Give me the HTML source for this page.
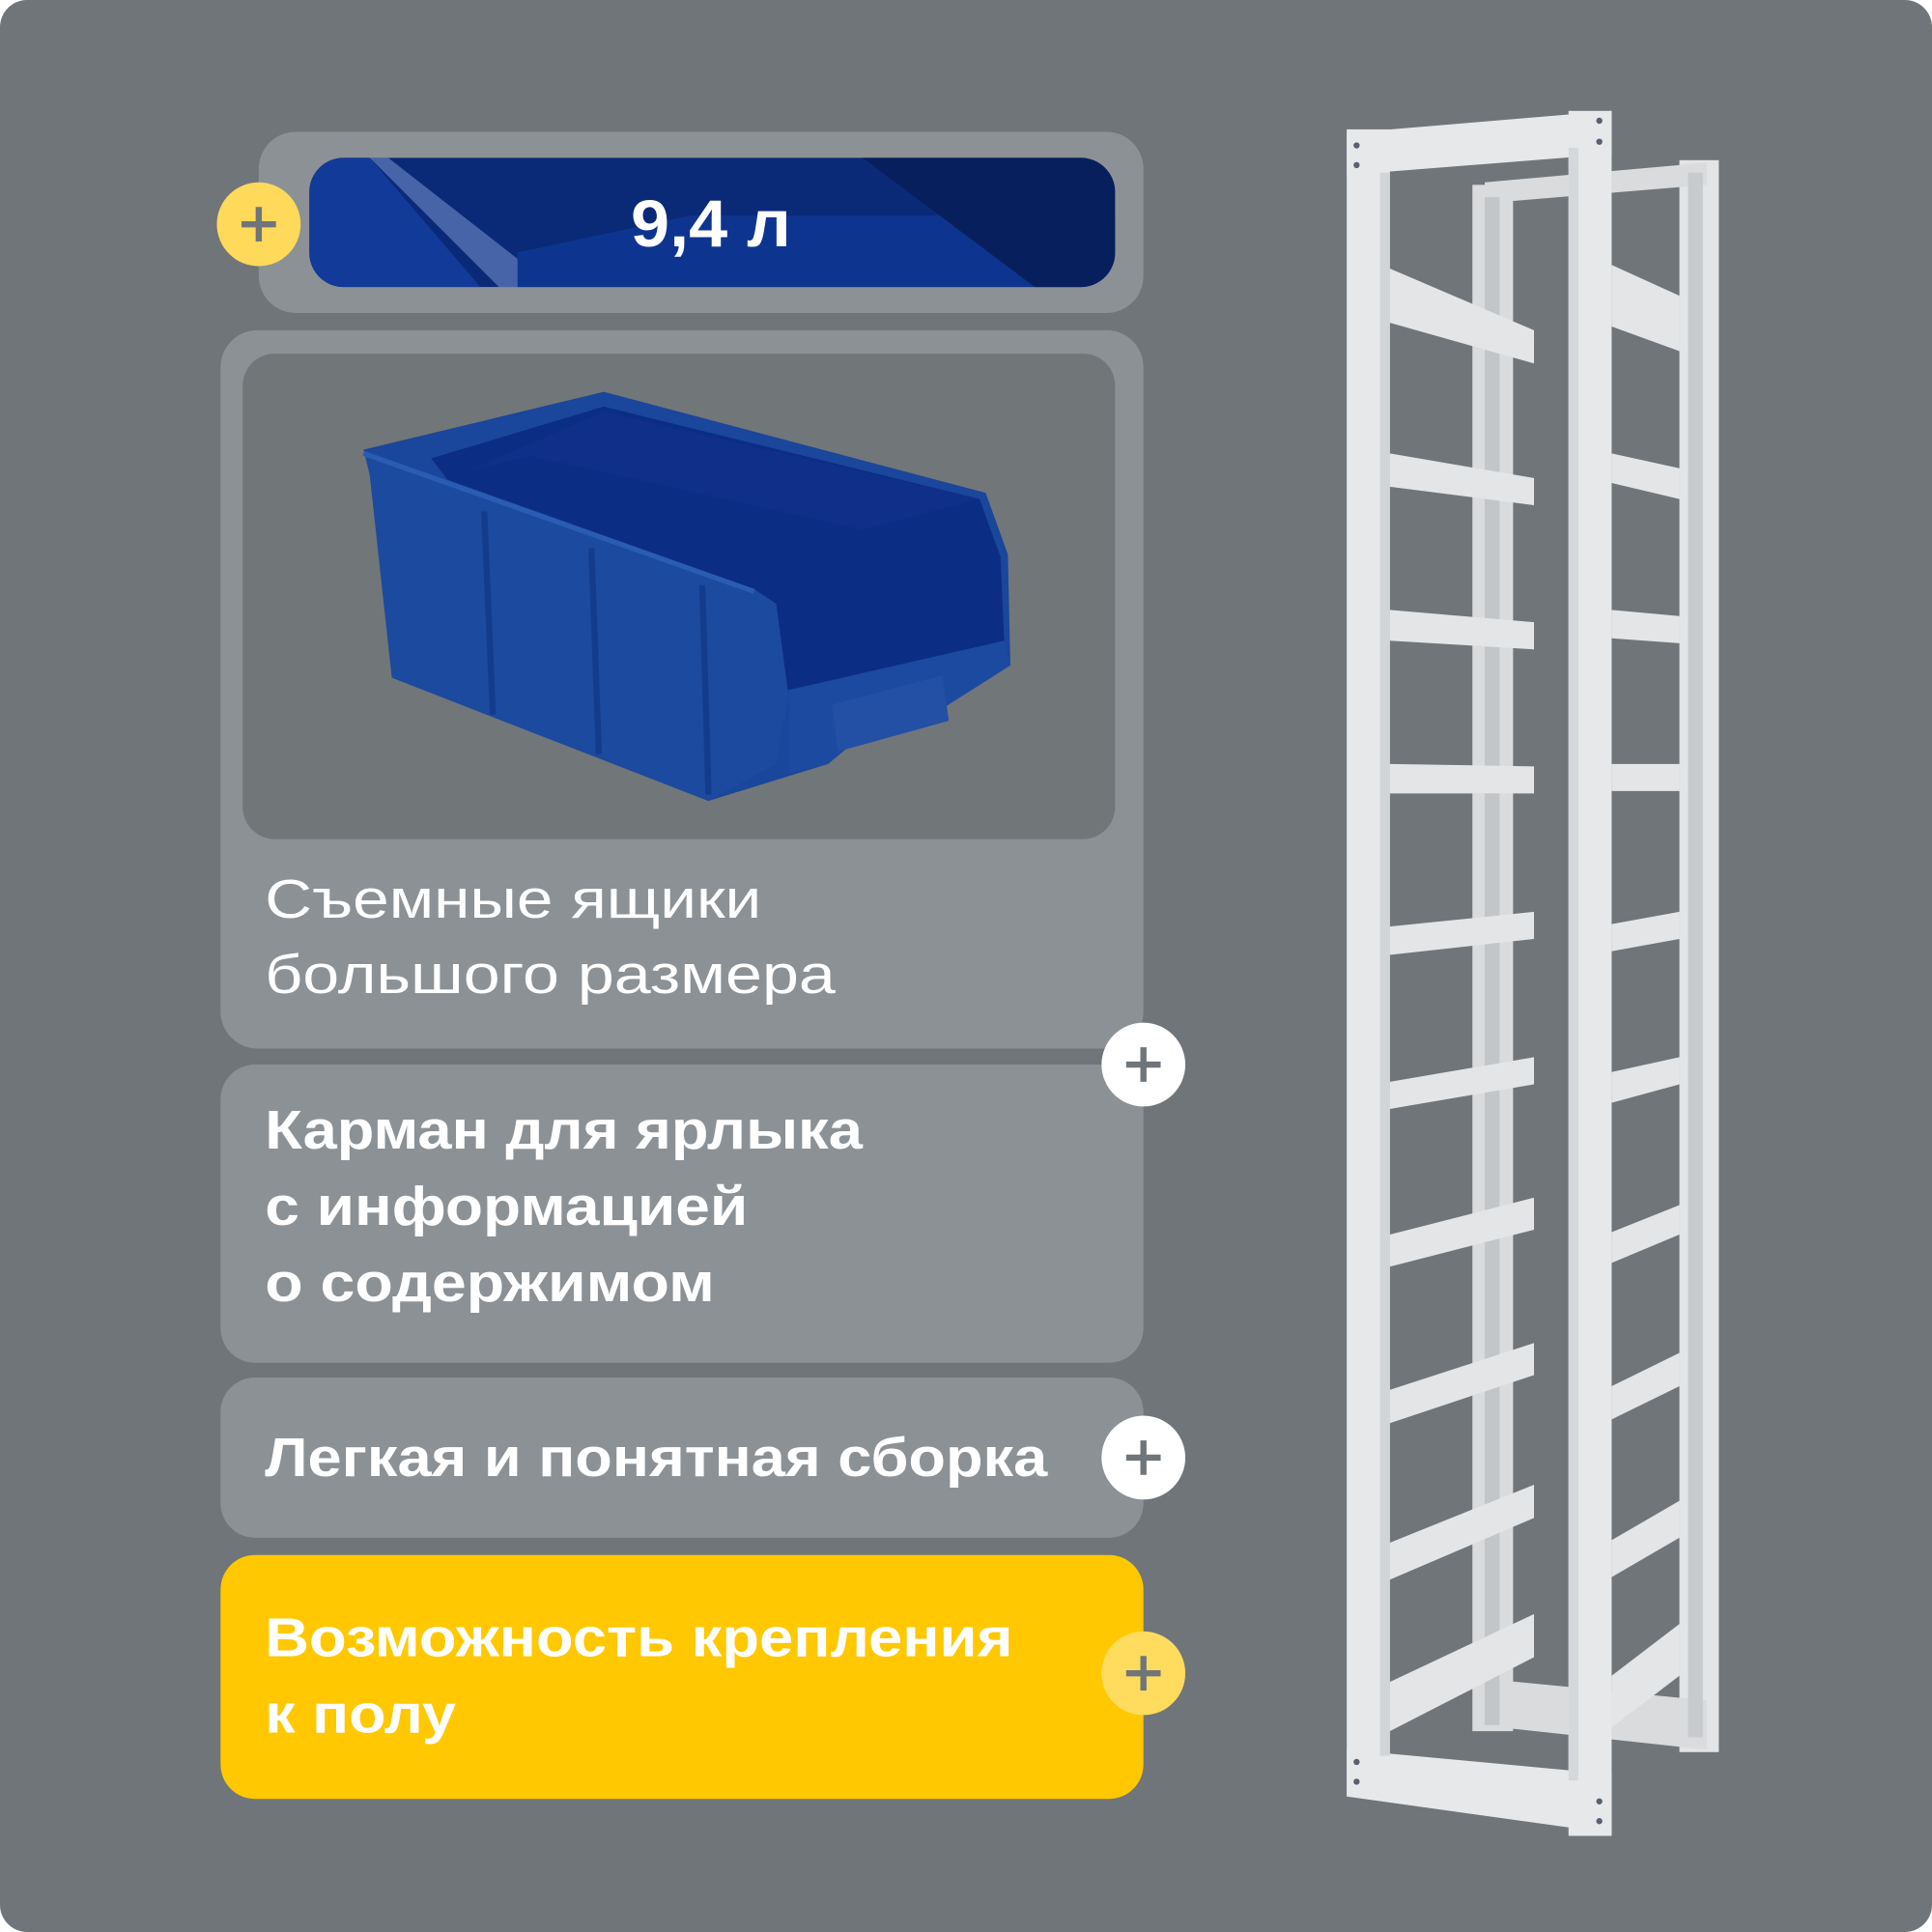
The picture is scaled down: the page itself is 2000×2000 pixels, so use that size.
<!DOCTYPE html>
<html><head><meta charset="utf-8"><style>
html,body{margin:0;padding:0;background:#fff;}
svg{display:block;}
text{font-family:"Liberation Sans","DejaVu Sans",sans-serif;fill:#fff;}
</style></head><body>
<svg width="2000" height="2000" viewBox="0 0 1568 1568" xmlns="http://www.w3.org/2000/svg">
<rect x="0" y="0" width="1568" height="1568" rx="22" fill="#707579"/>
<rect x="210" y="107" width="718" height="147" rx="30" fill="#8c9195"/>
<defs><clipPath id="cb"><rect x="251" y="128" width="654" height="105" rx="28"/></clipPath></defs>
<g clip-path="url(#cb)">
<rect x="251" y="128" width="654" height="105" fill="#0a2a78"/>
<polygon points="251,128 300,128 390,233 251,233" fill="#123a98"/>
<polygon points="300,128 315,128 420,210 430,233 405,233" fill="#6f8cc8" opacity="0.6"/>
<polygon points="420,205 560,175 905,175 905,233 420,233" fill="#0d3590"/>
<polygon points="700,128 905,128 905,233 840,233" fill="#081f5e"/>
</g>
<text x="577" y="200" font-size="54" font-weight="bold" text-anchor="middle" textLength="130" lengthAdjust="spacingAndGlyphs">9,4 л</text>
<circle cx="210" cy="182" r="34" fill="#ffd95a"/>
<path d="M210 168v28M196 182h28" stroke="#707579" stroke-width="5"/>
<rect x="179" y="268" width="749" height="583" rx="30" fill="#8c9195"/>
<rect x="197" y="287" width="708" height="394" rx="26" fill="#717679"/>
<polygon points="295,365 490,318 800,400 818,450 820,540 760,578 690,605 672,620 575,650 400,582 318,550 305,390" fill="#1a469b"/>
<polygon points="350,372 490,330 795,405 812,452 815,520 640,562 620,492 375,405" fill="#0c2d84"/>
<polygon points="380,382 490,334 795,405 700,430 430,370" fill="#102f88"/>
<polygon points="295,365 612,478 630,490 640,565 630,620 575,650 318,550 300,385" fill="#1c4a9e"/>
<polygon points="640,560 815,520 820,540 760,578 690,605 672,620 640,628" fill="#1b4aa0"/>
<polygon points="675,572 765,548 770,585 680,610" fill="#234fa5"/>
<line x1="393" y1="415" x2="400" y2="580" stroke="#143c8c" stroke-width="5"/>
<line x1="480" y1="445" x2="486" y2="612" stroke="#143c8c" stroke-width="5"/>
<line x1="570" y1="475" x2="575" y2="645" stroke="#143c8c" stroke-width="5"/>
<line x1="295" y1="368" x2="612" y2="480" stroke="#2b5cb3" stroke-width="4"/>
<text x="215" y="745" font-size="44" textLength="403" lengthAdjust="spacingAndGlyphs">Съемные ящики</text>
<text x="215" y="806" font-size="44" textLength="463" lengthAdjust="spacingAndGlyphs">большого размера</text>
<rect x="179" y="864" width="749" height="242" rx="28" fill="#8c9195"/>
<circle cx="928" cy="864" r="34" fill="#fff"/>
<path d="M928 850v28M914 864h28" stroke="#707579" stroke-width="5"/>
<text x="215" y="932" font-size="44" font-weight="bold" textLength="485" lengthAdjust="spacingAndGlyphs">Карман для ярлыка</text>
<text x="215" y="994" font-size="44" font-weight="bold" textLength="392" lengthAdjust="spacingAndGlyphs">с информацией</text>
<text x="215" y="1056" font-size="44" font-weight="bold" textLength="365" lengthAdjust="spacingAndGlyphs">о содержимом</text>
<rect x="179" y="1118" width="749" height="130" rx="28" fill="#8c9195"/>
<text x="215" y="1198" font-size="44" font-weight="bold" textLength="635" lengthAdjust="spacingAndGlyphs">Легкая и понятная сборка</text>
<circle cx="928" cy="1183" r="34" fill="#fff"/>
<path d="M928 1169v28M914 1183h28" stroke="#707579" stroke-width="5"/>
<rect x="179" y="1262" width="749" height="198" rx="28" fill="#ffc800"/>
<text x="215" y="1344" font-size="44" font-weight="bold" textLength="607" lengthAdjust="spacingAndGlyphs">Возможность крепления</text>
<text x="215" y="1406" font-size="44" font-weight="bold" textLength="155" lengthAdjust="spacingAndGlyphs">к полу</text>
<circle cx="928" cy="1358" r="34" fill="#ffdc5e"/>
<path d="M928 1344v28M914 1358h28" stroke="#707579" stroke-width="5"/>
<g fill="#d9dbdd">
<rect x="1195" y="150" width="33" height="1255"/>
<rect x="1363" y="130" width="32" height="1292" fill="#e2e4e6"/>
<polygon points="1205,148 1385,132 1385,150 1205,165"/>
<polygon points="1200,1362 1385,1380 1385,1420 1200,1400"/>
</g>
<rect x="1205" y="160" width="12" height="1240" fill="#c3c6c9"/>
<rect x="1370" y="140" width="12" height="1270" fill="#c8cbce"/>
<g fill="#e3e5e7">
<polygon points="1308,215 1363,240 1363,285 1308,265"/>
<polygon points="1308,368 1363,380 1363,405 1308,392"/>
<polygon points="1308,495 1363,500 1363,522 1308,518"/>
<polygon points="1308,620 1363,620 1363,642 1308,642"/>
<polygon points="1308,750 1363,740 1363,762 1308,772"/>
<polygon points="1308,870 1363,858 1363,880 1308,895"/>
<polygon points="1308,1000 1363,978 1363,1002 1308,1025"/>
<polygon points="1308,1125 1363,1098 1363,1125 1308,1152"/>
<polygon points="1308,1250 1363,1218 1363,1248 1308,1280"/>
<polygon points="1308,1360 1363,1318 1363,1360 1308,1402"/>
</g>
<g fill="#e6e8ea">
<rect x="1093" y="105" width="35" height="1352"/>
<rect x="1273" y="90" width="35" height="1400"/>
<polygon points="1093,108 1308,90 1308,125 1093,142"/>
<polygon points="1093,1420 1308,1440 1308,1488 1093,1458"/>
</g>
<rect x="1120" y="140" width="8" height="1285" fill="#d2d5d8"/>
<rect x="1273" y="120" width="8" height="1325" fill="#d5d8db"/>
<g fill="#e3e5e7">
<polygon points="1128,218 1245,268 1245,295 1128,262"/>
<polygon points="1128,368 1245,388 1245,410 1128,395"/>
<polygon points="1128,495 1245,505 1245,527 1128,520"/>
<polygon points="1128,620 1245,622 1245,644 1128,644"/>
<polygon points="1128,752 1245,740 1245,762 1128,775"/>
<polygon points="1128,878 1245,858 1245,880 1128,900"/>
<polygon points="1128,1002 1245,972 1245,998 1128,1028"/>
<polygon points="1128,1128 1245,1090 1245,1116 1128,1155"/>
<polygon points="1128,1252 1245,1205 1245,1232 1128,1282"/>
<polygon points="1128,1365 1245,1310 1245,1345 1128,1405"/>
</g>
<g fill="#5a6070">
<circle cx="1101" cy="118" r="2.5"/><circle cx="1101" cy="134" r="2.5"/>
<circle cx="1298" cy="98" r="2.5"/><circle cx="1298" cy="115" r="2.5"/>
<circle cx="1101" cy="1430" r="2.5"/><circle cx="1101" cy="1446" r="2.5"/>
<circle cx="1298" cy="1462" r="2.5"/><circle cx="1298" cy="1478" r="2.5"/>
</g>
</svg>
</body></html>
